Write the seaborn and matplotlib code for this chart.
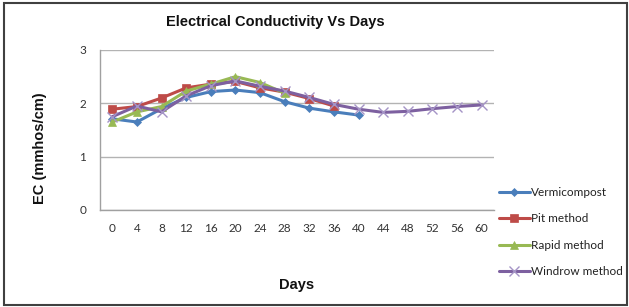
import matplotlib
matplotlib.use("Agg")
import matplotlib.pyplot as plt
from matplotlib.patches import Rectangle
from matplotlib.lines import Line2D
import numpy as np
import pandas as pd
import seaborn as sns

days = [0, 4, 8, 12, 16, 20, 24, 28, 32, 36, 40, 44, 48, 52, 56, 60]
vermicompost = [1.71, 1.65, 1.90, 2.11, 2.22, 2.25, 2.20, 2.03, 1.91, 1.84, 1.78]
pit_method = [1.89, 1.94, 2.10, 2.29, 2.36, 2.41, 2.29, 2.21, 2.09, 1.95]
rapid_method = [1.65, 1.84, 1.94, 2.23, 2.36, 2.50, 2.39, 2.19]
windrow_method = [1.75, 1.95, 1.84, 2.14, 2.33, 2.42, 2.32, 2.23, 2.11, 1.98, 1.89,
                  1.83, 1.85, 1.90, 1.94, 1.97]
series_names = ["Vermicompost", "Pit method", "Rapid method", "Windrow method"]
title = "Electrical Conductivity Vs Days"
xlabel = "Days"
ylabel = "EC (mmhos/cm)"
yticks = [0, 1, 2, 3]

sns.set_theme(style="white")
plt.rcParams["font.family"] = ["Liberation Sans", "DejaVu Sans"]

fig = plt.figure(figsize=(6.29, 3.07), dpi=100)
ax = fig.add_axes([100 / 629, 1 - 210 / 307, 394 / 629, 160 / 307])

styles = [
    dict(color="#4A7EBB", marker="D", markersize=4.5, mec="#4A7EBB", mew=0.5),
    dict(color="#BE4B48", marker="s", markersize=6, mec="#BE4B48", mew=0.5),
    dict(color="#98B954", marker="^", markersize=6, mec="#98B954", mew=0.5),
    dict(color="#7D60A0", marker="x", markersize=7, mec="#A594C6", mew=1.0),
]
all_vals = [vermicompost, pit_method, rapid_method, windrow_method]
for name, vals, st in zip(series_names, all_vals, styles):
    df = pd.DataFrame({"Days": days[:len(vals)], "EC": vals})
    sns.lineplot(data=df, x="Days", y="EC", ax=ax, color=st["color"],
                 marker=st["marker"], markersize=st["markersize"],
                 markeredgecolor=st["mec"], markeredgewidth=st["mew"],
                 linewidth=2.2, label=name, legend=False)

ax.set_xlim(-2, 62)
ax.set_ylim(0, 3)
ax.set_yticks(yticks)
ax.set_yticklabels([str(v) for v in yticks], fontsize=8.5, fontfamily="Lato", color="#333333")
ax.set_xticks(days)
ax.set_xticklabels([str(d) for d in days], fontsize=8.5, fontfamily="Lato", color="#333333")
ax.set_xticks(np.arange(-2, 63, 4), minor=True)
ax.tick_params(axis="x", which="major", length=0, pad=9)
ax.tick_params(axis="x", which="minor", length=4, width=0.8, color="#A0A0A0", direction="out")
ax.tick_params(axis="y", which="major", length=4, width=0.8, color="#A0A0A0", direction="out", pad=6)
ax.yaxis.grid(True, color="#B3B3B3", linewidth=1.0)
ax.xaxis.grid(False)
for s in ["top", "right"]:
    ax.spines[s].set_visible(False)
for s in ["left", "bottom"]:
    ax.spines[s].set_color("#A0A0A0")
    ax.spines[s].set_linewidth(1.0)
ax.set_xlabel("")
ax.set_ylabel("")

fig.text(275 / 629, 1 - 22 / 307, title, ha="center", va="center", fontsize=10.5,
         fontweight="bold", color="#111111")
fig.text(297 / 629, 1 - 285 / 307, xlabel, ha="center", va="center", fontsize=10.5,
         fontweight="bold", color="#111111")
fig.text(40 / 629, 1 - 148 / 307, ylabel, ha="center", va="center", fontsize=10.5,
         fontweight="bold", rotation=90, color="#111111")

handles = []
for name, st in zip(series_names, styles):
    handles.append(Line2D([0], [0], color=st["color"], linewidth=2.2, marker=st["marker"],
                          markersize=st["markersize"], markeredgecolor=st["mec"],
                          markeredgewidth=st["mew"]))
leg = fig.legend(handles, series_names, loc="upper left",
                 bbox_to_anchor=(499 / 629, 1 - 187 / 307), frameon=False,
                 prop={"family": "Lato", "size": 8.5}, handlelength=2.6,
                 handletextpad=0.15, labelspacing=1.3, borderpad=0, borderaxespad=0)
for t in leg.get_texts():
    t.set_color("#222222")

fig.patches.append(Rectangle((4 / 629, 2 / 307), 623 / 629, 302 / 307,
                             transform=fig.transFigure, fill=False,
                             edgecolor="#404040", linewidth=1.5))

fig.savefig("out.png", dpi=100)
